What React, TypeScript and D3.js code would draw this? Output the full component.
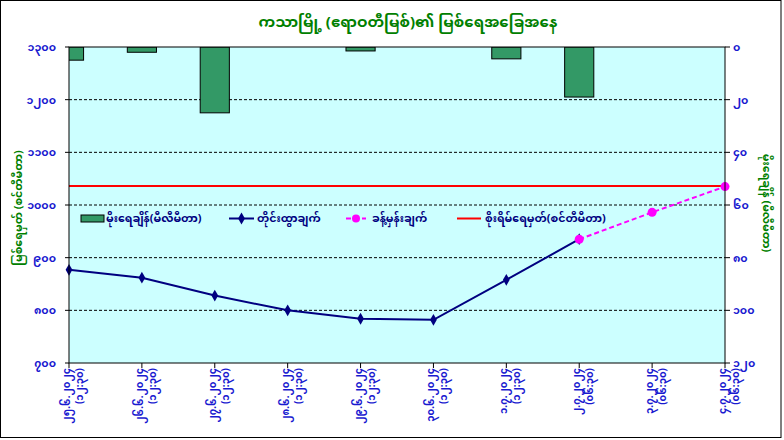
import React from "react";
import * as d3 from "d3";

const title = "ကသာမြို့ (ဧရာဝတီမြစ်)၏ မြစ်ရေအခြေအနေ";
const leftTitle = "မြစ်ရေမှတ် (စင်တီမီတာ)";
const rightTitle = "မိုးရေချိန် (မီလီမီတာ)";

const dates = ["၂၅.၆.၂၀၂၄", "၂၆.၆.၂၀၂၄", "၂၇.၆.၂၀၂၄", "၂၈.၆.၂၀၂၄", "၂၉.၆.၂၀၂၄", "၃၀.၆.၂၀၂၄", "၁.၇.၂၀၂၄", "၂.၇.၂၀၂၄", "၃.၇.၂၀၂၄", "၄.၇.၂၀၂၄"];
const times = ["(၁၂:၃၀)", "(၁၂:၃၀)", "(၁၂:၃၀)", "(၁၂:၃၀)", "(၁၂:၃၀)", "(၁၂:၃၀)", "(၁၂:၃၀)", "(၀၆:၃၀)", "(၀၆:၃၀)", "(၀၆:၃၀)"];

const rainfall: (number | null)[] = [5, 2, 25, 0, 1.5, 0, 4.5, 19, null, null];
const observed: (number | null)[] = [877, 862, 828, 800, 784, 782, 858, 935, null, null];
const forecast: (number | null)[] = [null, null, null, null, null, null, null, 935, 986, 1035];
const dangerLevel = 1036;

const leftTicks = [700, 800, 900, 1000, 1100, 1200, 1300];
const rightTicks = [0, 20, 40, 60, 80, 100, 120];

const legendLabels = ["မိုးရေချိန်(မီလီမီတာ)", "တိုင်းထွာချက်", "ခန့်မှန်းချက်", "စိုးရိမ်ရေမှတ်(စင်တီမီတာ)"];

const mmDigits = "၀၁၂၃၄၅၆၇၈၉";
const toMM = (n: number) => String(n).replace(/[0-9]/g, (c) => mmDigits[+c]);

const FONT = "'Noto Sans Myanmar', 'Padauk', 'Myanmar Text', 'Noto Sans', sans-serif";

export default function App() {
  const W = 784, H = 440;
  const L = 69, R = 725, T = 47, B = 363;
  const x = d3.scalePoint<string>().domain(dates).range([L, R]);
  const yL = d3.scaleLinear().domain([700, 1300]).range([B, T]);
  const yR = d3.scaleLinear().domain([0, 120]).range([T, B]);
  const step = x.step();
  const barW = step * 0.4;

  const obsPts = dates.map((d, i) => ({ d, v: observed[i] })).filter((p) => p.v != null) as { d: string; v: number }[];
  const fcPts = dates.map((d, i) => ({ d, v: forecast[i] })).filter((p) => p.v != null) as { d: string; v: number }[];
  const line = d3.line<{ d: string; v: number }>().x((p) => x(p.d)!).y((p) => yL(p.v));
  const diamond = d3.symbol().type(d3.symbolDiamond).size(40)()!;

  const navy = "#000080";
  const blue = "#1a1ad0";
  const green = "#008000";

  return (
    <svg width={W} height={H} style={{ position: "absolute", left: 0, top: 0, background: "#fff" }} fontFamily={FONT}>
      <defs>
        <clipPath id="plotclip">
          <rect x={L} y={T} width={R - L} height={B - T} />
        </clipPath>
      </defs>
      <rect x={0.5} y={0.5} width={780.5} height={437} fill="#fff" stroke="#000" strokeWidth={1} />
      <text x={408} y={27} textAnchor="middle" fontSize={15} fontWeight="bold" fill={green}>{title}</text>

      <rect x={L} y={T} width={R - L} height={B - T} fill="#ccffff" />
      {leftTicks.slice(1, -1).map((t) => (
        <line key={t} x1={L} x2={R} y1={yL(t)} y2={yL(t)} stroke="#000" strokeDasharray="3,2" strokeWidth={1} />
      ))}

      <g clipPath="url(#plotclip)">
        {rainfall.map((v, i) =>
          v != null && v > 0 ? (
            <rect key={i} x={x(dates[i])! - barW / 2} y={yR(0)} width={barW} height={yR(v) - yR(0)} fill="#339966" stroke="#000" strokeWidth={1} />
          ) : null
        )}
      </g>

      <line x1={L} x2={R} y1={yL(dangerLevel)} y2={yL(dangerLevel)} stroke="#ff0000" strokeWidth={2} />
      <path d={line(obsPts)!} fill="none" stroke={navy} strokeWidth={2} />
      {obsPts.map((p) => (
        <path key={p.d} d={diamond} transform={`translate(${x(p.d)},${yL(p.v)})`} fill={navy} />
      ))}
      <path d={line(fcPts)!} fill="none" stroke="#ff00ff" strokeWidth={2} strokeDasharray="5,3" />
      {fcPts.map((p) => (
        <circle key={p.d} cx={x(p.d)} cy={yL(p.v)} r={4.5} fill="#ff00ff" />
      ))}

      <rect x={L} y={T} width={R - L} height={B - T} fill="none" stroke="#000" strokeWidth={1} />

      {/* left axis */}
      {leftTicks.map((t) => (
        <g key={t}>
          <line x1={L - 4} x2={L} y1={yL(t)} y2={yL(t)} stroke="#000" />
          <text x={L - 13} y={yL(t) + 4} textAnchor="end" fontSize={11} fontWeight="bold" fill={blue}>{toMM(t)}</text>
        </g>
      ))}
      {/* right axis */}
      {rightTicks.map((t) => (
        <g key={t}>
          <line x1={R} x2={R + 5} y1={yR(t)} y2={yR(t)} stroke="#000" />
          <text x={R + 8} y={yR(t) + 4} textAnchor="start" fontSize={11} fontWeight="bold" fill={blue}>{toMM(t)}</text>
        </g>
      ))}
      {/* x axis */}
      {dates.map((d, i) => (
        <g key={d}>
          <line x1={x(d)} x2={x(d)} y1={B} y2={B + 5} stroke="#000" />
          <text transform={`translate(${x(d)! + 1},${B + 5}) rotate(-90)`} textAnchor="end" fontSize={10} fontWeight="bold" fill={blue}>{d}</text>
          <text transform={`translate(${x(d)! + 14},${B + 5}) rotate(-90)`} textAnchor="end" fontSize={10} fontWeight="bold" fill={blue}>{times[i]}</text>
        </g>
      ))}

      <text transform={`translate(22,208) rotate(-90)`} textAnchor="middle" fontSize={11} fontWeight="bold" fill={green}>{leftTitle}</text>
      <text transform={`translate(763,203) rotate(90)`} textAnchor="middle" fontSize={11} fontWeight="bold" fill={green}>{rightTitle}</text>

      {/* legend */}
      <g fontSize={11} fontWeight="bold" fill={navy}>
        <rect x={81} y={215} width={23} height={7} fill="#339966" stroke="#000" />
        <text x={106} y={222}>{legendLabels[0]}</text>
        <line x1={229} x2={254} y1={218.5} y2={218.5} stroke={navy} strokeWidth={2} />
        <path d={diamond} transform="translate(241.5,218.5)" fill={navy} />
        <text x={257} y={222}>{legendLabels[1]}</text>
        <line x1={346} x2={366} y1={218.5} y2={218.5} stroke="#ff00ff" strokeWidth={2} strokeDasharray="5,3" />
        <circle cx={356} cy={218.5} r={4} fill="#ff00ff" />
        <text x={372} y={222}>{legendLabels[2]}</text>
        <line x1={457} x2={481} y1={218.5} y2={218.5} stroke="#ff0000" strokeWidth={2} />
        <text x={485} y={222}>{legendLabels[3]}</text>
      </g>
    </svg>
  );
}
